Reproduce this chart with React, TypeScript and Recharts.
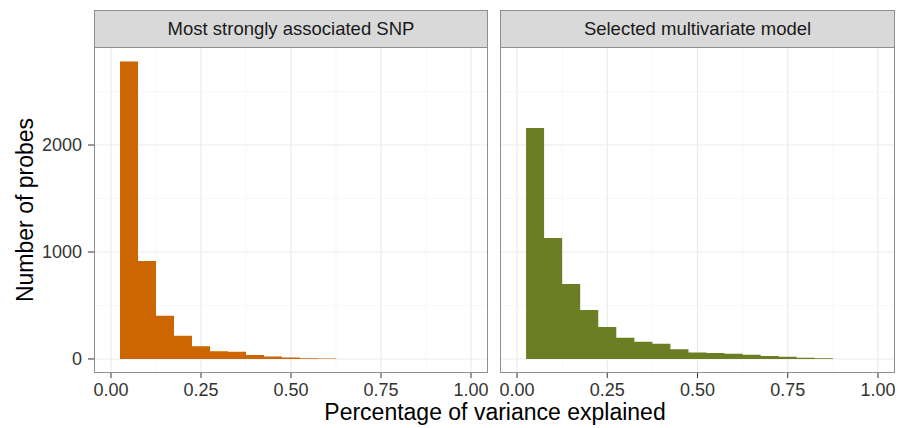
import React from 'react';
import { ComposedChart, Area, XAxis, YAxis, CartesianGrid } from 'recharts';

const binEdges = [0.025, 0.075, 0.125, 0.175, 0.225, 0.275, 0.325, 0.375, 0.425, 0.475, 0.525, 0.575, 0.625, 0.675, 0.725, 0.775, 0.825, 0.875];
const snpCounts = [2780, 916, 405, 218, 118, 72, 68, 38, 24, 14, 7, 4, 0, 0, 0, 0, 0];
const multiCounts = [2160, 1131, 701, 458, 300, 198, 160, 142, 90, 61, 57, 50, 40, 28, 20, 12, 8];
const panelTitles = ['Most strongly associated SNP', 'Selected multivariate model'];
const xTicks = [0, 0.25, 0.5, 0.75, 1];
const xMinor = [0.125, 0.375, 0.625, 0.875];
const yTicks = [0, 1000, 2000];
const yMinor = [500, 1500, 2500];
const xTitle = 'Percentage of variance explained';
const yTitle = 'Number of probes';

const FONT = '"Liberation Sans", Arial, Helvetica, sans-serif';
const X_DOMAIN: [number, number] = [-0.0472, 1.0472];
const Y_DOMAIN: [number, number] = [-131, 2916];
const PLOT_TOP = 47;
const PLOT_H = 326;
const TICK_FONT = 18;
const STRIP_FONT = 18.5;
const TITLE_FONT = 23;

const buildData = (counts: number[]) =>
  binEdges.map((x, i) => ({ x, count: i < counts.length ? counts[i] : 0 }));

type PanelProps = {
  left: number;
  plotWidth: number;
  axisWidth: number;
  counts: number[];
  color: string;
  title: string;
};

const Panel = ({ left, plotWidth, axisWidth, counts, color, title }: PanelProps) => {
  const data = buildData(counts);
  const showY = axisWidth > 0;
  return (
    <>
      <div style={{ position: 'absolute', left: left - axisWidth, top: 0 }}>
        <ComposedChart
          width={plotWidth + axisWidth}
          height={428}
          data={data}
          margin={{ top: PLOT_TOP, right: 0, bottom: 428 - PLOT_TOP - PLOT_H - 55, left: 0 }}
        >
          <CartesianGrid horizontalValues={yMinor} verticalValues={xMinor} stroke="#F3F3F3" strokeWidth={0.7} />
          <CartesianGrid horizontalValues={yTicks} verticalValues={xTicks} stroke="#EBEBEB" strokeWidth={1.2} />
          <XAxis
            type="number"
            dataKey="x"
            domain={X_DOMAIN}
            allowDataOverflow
            ticks={xTicks}
            interval={0}
            tickFormatter={(v: number) => v.toFixed(2)}
            tick={{ fill: '#333333', fontSize: TICK_FONT, fontFamily: FONT }}
            tickLine={{ stroke: '#333333' }}
            tickSize={5}
            tickMargin={5}
            axisLine={false}
            height={55}
          />
          <YAxis
            type="number"
            domain={Y_DOMAIN}
            allowDataOverflow
            ticks={yTicks}
            interval={0}
            hide={!showY}
            width={axisWidth}
            tick={{ fill: '#333333', fontSize: TICK_FONT, fontFamily: FONT }}
            tickLine={{ stroke: '#333333' }}
            tickSize={6}
            tickMargin={6}
            axisLine={false}
          />
          <Area
            type="stepAfter"
            dataKey="count"
            stroke="none"
            fill={color}
            fillOpacity={1}
            isAnimationActive={false}
            dot={false}
            activeDot={false}
          />
        </ComposedChart>
      </div>
      <div
        style={{
          position: 'absolute',
          left,
          top: 10,
          width: plotWidth,
          height: PLOT_TOP - 10 + 1,
          boxSizing: 'border-box',
          background: '#D9D9D9',
          border: '1px solid #8E8E8E',
          fontFamily: FONT,
          fontSize: STRIP_FONT,
          color: '#1A1A1A',
          textAlign: 'center',
          lineHeight: `${PLOT_TOP - 10 - 1}px`,
        }}
      >
        {title}
      </div>
      <div
        style={{
          position: 'absolute',
          left,
          top: PLOT_TOP,
          width: plotWidth,
          height: PLOT_H,
          boxSizing: 'border-box',
          border: '1px solid #8E8E8E',
          pointerEvents: 'none',
        }}
      />
    </>
  );
};

export default function App() {
  return (
    <div style={{ position: 'absolute', left: 0, top: 0, width: 900, height: 428, background: '#FFFFFF', overflow: 'hidden' }}>
      <Panel left={94} plotWidth={394} axisWidth={94} counts={snpCounts} color="#CC6600" title={panelTitles[0]} />
      <Panel left={500} plotWidth={395} axisWidth={0} counts={multiCounts} color="#6B7E23" title={panelTitles[1]} />
      <div
        style={{
          position: 'absolute',
          left: 295,
          top: 401,
          width: 400,
          height: 22,
          lineHeight: '22px',
          textAlign: 'center',
          fontFamily: FONT,
          fontSize: TITLE_FONT,
          color: '#000000',
          whiteSpace: 'nowrap',
        }}
      >
        {xTitle}
      </div>
      <div
        style={{
          position: 'absolute',
          left: 25 - 150,
          top: 210 - 13,
          width: 300,
          height: 26,
          lineHeight: '26px',
          textAlign: 'center',
          fontFamily: FONT,
          fontSize: TITLE_FONT,
          color: '#000000',
          whiteSpace: 'nowrap',
          transform: 'rotate(-90deg)',
        }}
      >
        {yTitle}
      </div>
    </div>
  );
}
